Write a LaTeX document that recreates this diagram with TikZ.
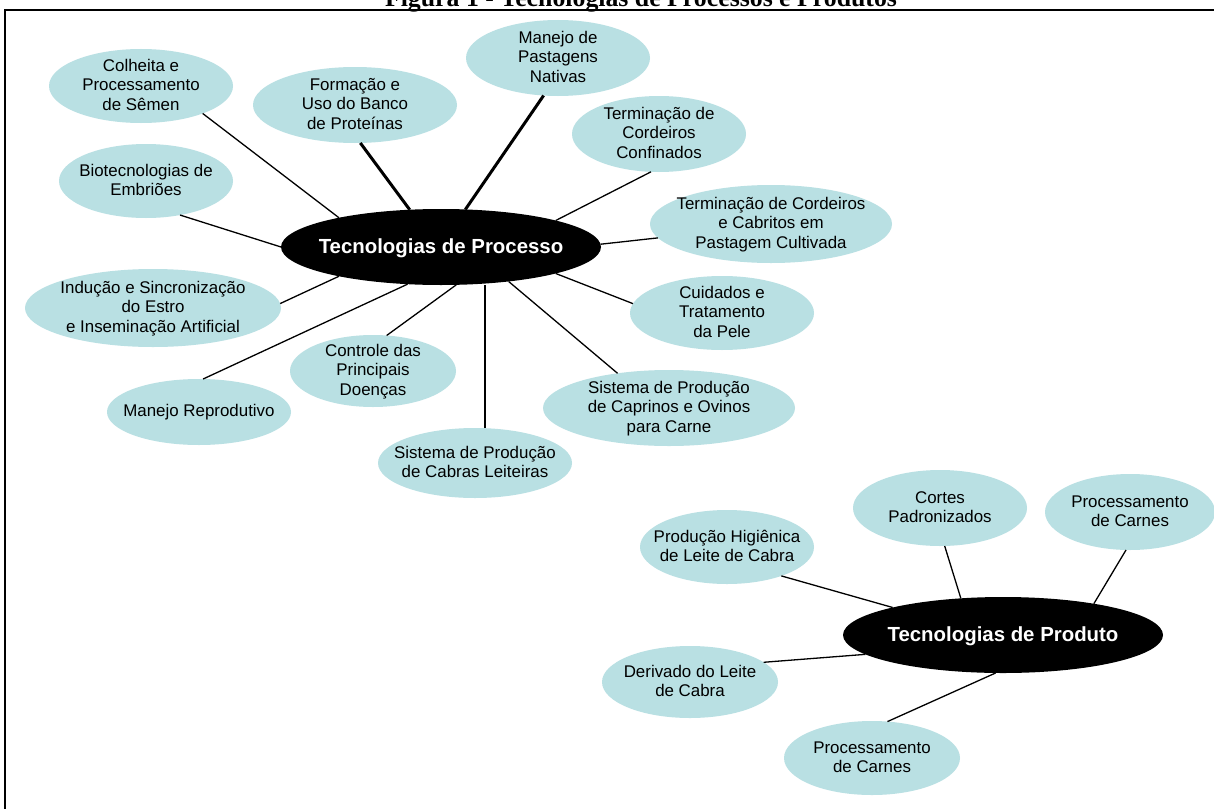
\documentclass[tikz,border=0pt]{standalone}
\usepackage{fontspec}
\setmainfont{Liberation Sans}
\newfontfamily\titlefont{Liberation Serif}
\usetikzlibrary{shapes.geometric}
\definecolor{bubble}{RGB}{185,224,227}
% centred label that does not widen the ellipse around it
\newcommand{\bubbletext}[1]{\makebox[0pt]{\smash{\raisebox{-.32em}{\begin{tabular}{@{}c@{}}#1\end{tabular}}}}}
\begin{document}
\begin{tikzpicture}[x=1pt,y=-1pt,
  topic/.style={ellipse, fill=bubble, inner sep=0pt, outer sep=0pt,
    font=\fontsize{16.9}{19.5}\selectfont},
  hub/.style={ellipse, fill=black, text=white, inner sep=0pt, outer sep=0pt,
    font=\bfseries\fontsize{20.4}{24}\selectfont},
  sz/.style 2 args={minimum width=#1pt, minimum height=#2pt},
  link/.style={line width=1.3pt},
  boldlink/.style={line width=3pt}]

\useasboundingbox (0,0) rectangle (1214,808);
\clip (0,0) rectangle (1214,808);
\fill[white] (0,0) rectangle (1214,808);

% caption and frame
\node[font=\titlefont\bfseries\fontsize{25.8}{30}\selectfont, anchor=base, inner sep=0pt]
  (titulo) at (641,7) {Figura 1 - Tecnologias de Processos e Produtos};
\draw[line width=2pt] (5,10) rectangle (1240,840);

% process technologies
\node[hub, sz={320}{76}] (processo) at (441,247) {\bubbletext{Tecnologias de Processo}};
\node[topic, sz={184}{74}] (colheita) at (141,86) {\bubbletext{Colheita e\\Processamento\\de Sêmen}};
\node[topic, sz={204}{76}] (formacao) at (355,105) {\bubbletext{Formação e\\Uso do Banco\\de Proteínas}};
\node[topic, sz={184}{76}] (pastagens) at (558,58) {\bubbletext{Manejo de\\Pastagens\\Nativas}};
\node[topic, sz={174}{76}] (confinados) at (659,134) {\bubbletext{Terminação de\\Cordeiros\\Confinados}};
\node[topic, sz={242}{78}] (cultivada) at (771,224) {\bubbletext{Terminação de Cordeiros\\e Cabritos em\\Pastagem Cultivada}};
\node[topic, sz={174}{74}] (biotec) at (146,181) {\bubbletext{Biotecnologias de\\Embriões}};
\node[topic, sz={184}{74}] (pele) at (722,313) {\bubbletext{Cuidados e\\Tratamento\\da Pele}};
\node[topic, sz={256}{78}] (inducao) at (153,308) {\bubbletext{Indução e Sincronização\\do Estro\\e Inseminação Artificial}};
\node[topic, sz={252}{76}] (caprinos) at (669,408) {\bubbletext{Sistema de Produção\\de Caprinos e Ovinos\\para Carne}};
\node[topic, sz={166}{72}] (doencas) at (373,371) {\bubbletext{Controle das\\Principais\\Doenças}};
\node[topic, sz={184}{66}] (reprodutivo) at (199,412) {\bubbletext{Manejo Reprodutivo}};
\node[topic, sz={194}{70}] (leiteiras) at (475,463) {\bubbletext{Sistema de Produção\\de Cabras Leiteiras}};

\draw[link] (colheita.-24) -- (processo.164);
\draw[link] (biotec.-45) -- (processo.180);
\draw[boldlink] (formacao.-82) -- (processo.130);
\draw[boldlink] (pastagens.-111) -- (processo.57);
\draw[link] (confinados.-102) -- (processo.13);
\draw[link] (cultivada.-173) -- (processo.1);
\draw[link] (pele.174) -- (processo.-13);
\draw[link] (caprinos.146) -- (processo.-27);
\draw[link] (leiteiras.74) -- (leiteiras.74 |- processo.south);
\draw[link] (doencas.69) -- (processo.-68.5);
\draw[link] (reprodutivo.83) -- (processo.-132.6);
\draw[link] (inducao.2) -- (processo.-164);

% product technologies
\node[hub, sz={320}{76}] (produto) at (1003,635) {\bubbletext{Tecnologias de Produto}};
\node[topic, sz={174}{74}] (higienica) at (727,547) {\bubbletext{Produção Higiênica\\de Leite de Cabra}};
\node[topic, sz={174}{76}] (cortes) at (940,508) {\bubbletext{Cortes\\Padronizados}};
\node[topic, sz={170}{76}] (carnesA) at (1130,512) {\bubbletext{Processamento\\de Carnes}};
\node[topic, sz={176}{72}] (derivado) at (690,682) {\bubbletext{Derivado do Leite\\de Cabra}};
\node[topic, sz={176}{74}] (carnesB) at (872,758) {\bubbletext{Processamento\\de Carnes}};

\draw[link] (higienica.-28) -- (produto.166);
\draw[link] (cortes.-83) -- (produto.139);
\draw[link] (carnesA.-96) -- (produto.19);
\draw[link] (derivado.15) -- (produto.-172);
\draw[link] (carnesB.67) -- (produto.-101);
\end{tikzpicture}
\end{document}
